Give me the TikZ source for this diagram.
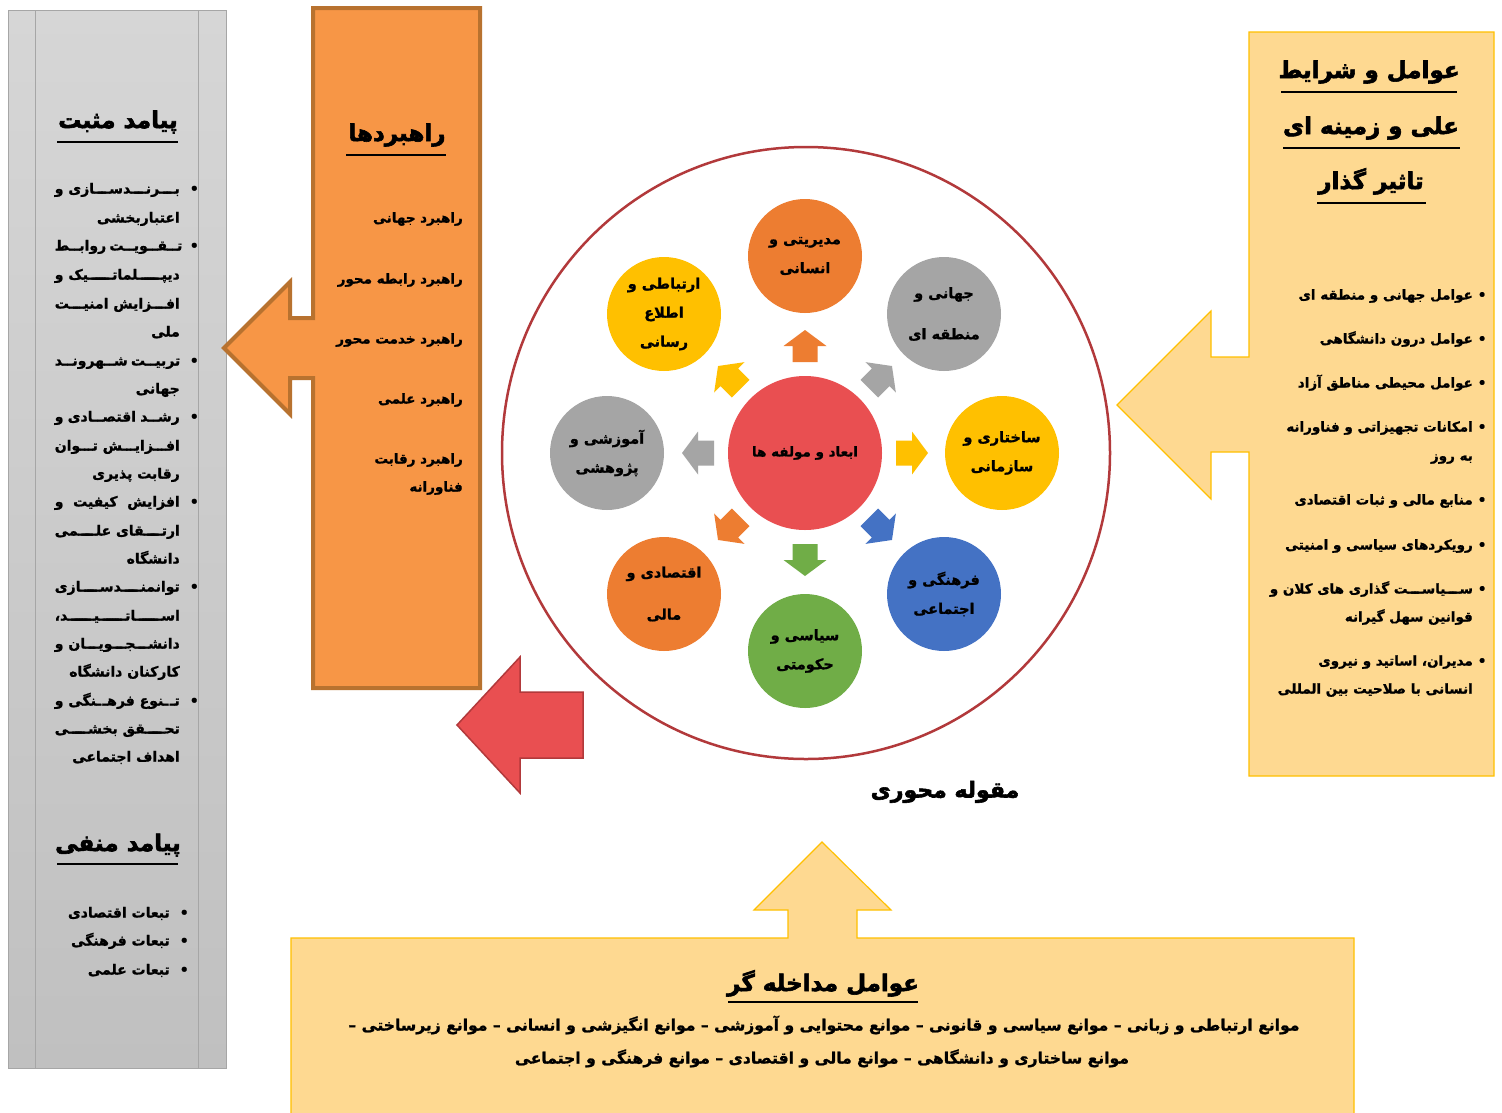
\documentclass[tikz,border=0pt]{standalone}
\usepackage{fontspec}
\newfontfamily\fa[Script=Arabic, BoldFeatures={FakeBold=1.2}]{DejaVu Sans}
\newfontfamily\faT[Script=Arabic, BoldFeatures={FakeBold=2.5}]{DejaVu Sans}
\TeXXeTstate=1
\newcommand{\R}[1]{\beginR#1\endR}
\newcommand{\JL}[2][125pt]{\hbox to #1{\beginR #2\endR}}
\newcommand{\K}{\xleaders\hbox to 1.5pt{\hss ـ\hss}\hfill}
\newcommand{\bul}[1][10pt]{\rlap{\hspace{#1}•}}
\newcommand{\fS}{\fa\bfseries\fontsize{14}{17}\selectfont}
\newcommand{\fR}{\fa\bfseries\fontsize{13.5}{17}\selectfont}
\newcommand{\fT}{\faT\bfseries\fontsize{23}{28}\selectfont}
\newcommand{\fC}{\fa\bfseries\fontsize{14.5}{29}\selectfont}
\definecolor{grayA}{HTML}{D6D6D6}
\definecolor{grayB}{HTML}{C0C0C0}
\definecolor{grayL}{HTML}{A6A6A6}
\definecolor{orF}{HTML}{F79646}
\definecolor{orD}{HTML}{B8722F}
\definecolor{peach}{HTML}{FED991}
\definecolor{gold}{HTML}{FFC000}
\definecolor{redF}{HTML}{E94F51}
\definecolor{redD}{HTML}{B2393B}
\definecolor{cOr}{HTML}{ED7D31}
\definecolor{cGr}{HTML}{A5A5A5}
\definecolor{cYe}{HTML}{FFC000}
\definecolor{cBl}{HTML}{4472C4}
\definecolor{cGn}{HTML}{70AD47}
\tikzset{
  sm/.style={font=\fS, inner sep=0pt, text height=10pt, text depth=3pt},
  lnE/.style={sm, anchor=east},
  lnR/.style={lnE, font=\fR},
  ttl/.style={font=\fT, inner sep=0pt, text height=18pt, text depth=6pt},
  uline/.style={line width=2pt, black},
  sat/.style={circle, minimum size=114pt, inner sep=0pt, align=center, font=\fC},
}
\begin{document}
\begin{tikzpicture}[x=1pt,y=-1pt]
\useasboundingbox (0,0) rectangle (1502,1112);
\fill[white] (0,0) rectangle (1502,1112);

% ---------- left gray panel ----------
\shade[top color=grayA, bottom color=grayB] (8,10) rectangle (226,1068);
\draw[grayL, line width=1pt] (8,10) rectangle (226,1068);
\draw[grayL, line width=0.8pt] (35,10) -- (35,1068);
\draw[grayL, line width=0.8pt] (198,10) -- (198,1068);

\node[ttl] (posT) at (118,122) {\R{پیامد مثبت}};
\draw[uline] (57,142) -- (178,142);

\node[lnE] (p1) at (180,190) {\JL{بـ\K ـرنـ\K ـدسـ\K ـازی و}\bul};
\node[lnE] (p2) at (180,219) {\R{اعتباربخشی}};
\node[lnE] (p3) at (180,247) {\JL{تـ\K ـقـ\K ـویـ\K ـت روابـ\K ـط}\bul};
\node[lnE] (p4) at (180,276) {\JL{دیپـ\K ـلماتـ\K ـیک و}};
\node[lnE] (p5) at (180,305) {\JL{افـ\K ـزایش امنیـ\K ـت}};
\node[lnE] (p6) at (180,333) {\R{ملی}};
\node[lnE] (p7) at (180,362) {\JL{تربیـ\K ـت شـ\K ـهرونـ\K ـد}\bul};
\node[lnE] (p8) at (180,390) {\R{جهانی}};
\node[lnE] (p9) at (180,418) {\JL{رشـ\K ـد اقتصـ\K ـادی و}\bul};
\node[lnE] (p10) at (180,447) {\JL{افـ\K ـزایـ\K ـش تـ\K ـوان}};
\node[lnE] (p11) at (180,475) {\R{رقابت پذیری}};
\node[lnE] (p12) at (180,503) {\JL{افزایش\hfill کیفیت\hfill و}\bul};
\node[lnE] (p13) at (180,532) {\JL{ارتـ\K ـقای علـ\K ـمی}};
\node[lnE] (p14) at (180,560) {\R{دانشگاه}};
\node[lnE] (p15) at (180,588) {\JL{توانمنـ\K ـدسـ\K ـازی}\bul};
\node[lnE] (p16) at (180,617) {\JL{اسـ\K ـاتـ\K ـیـ\K ـد،}};
\node[lnE] (p17) at (180,645) {\JL{دانشـ\K ـجـ\K ـویـ\K ـان و}};
\node[lnE] (p18) at (180,673) {\R{کارکنان دانشگاه}};
\node[lnE] (p19) at (180,702) {\JL{تـ\K ـنوع فرهـ\K ـنگی و}\bul};
\node[lnE] (p20) at (180,730) {\JL{تحـ\K ـقق بخشـ\K ـی}};
\node[lnE] (p21) at (180,758) {\R{اهداف اجتماعی}};

\node[ttl] (negT) at (118,845) {\R{پیامد منفی}};
\draw[uline] (57,864) -- (178,864);
\node[lnE] (n1) at (170,914) {\R{تبعات اقتصادی}\bul};
\node[lnE] (n2) at (170,942) {\R{تبعات فرهنگی}\bul};
\node[lnE] (n3) at (170,971) {\R{تبعات علمی}\bul};

% ---------- orange strategies panel ----------
\draw[orD, fill=orF, line width=4pt, line join=miter]
  (313,8) -- (480,8) -- (480,688) -- (313,688) -- (313,378) -- (290,378)
  -- (290,414) -- (224,348) -- (290,282) -- (290,318) -- (313,318) -- cycle;
\node[ttl] (strT) at (397,135) {\R{راهبردها}};
\draw[uline] (346,155) -- (446,155);
\node[lnR] (s1) at (463,219) {\R{راهبرد جهانی}};
\node[lnR] (s2) at (463,280) {\R{راهبرد رابطه محور}};
\node[lnR] (s3) at (463,340) {\R{راهبرد خدمت محور}};
\node[lnR] (s4) at (463,400) {\R{راهبرد علمی}};
\node[lnR] (s5) at (463,460) {\R{راهبرد رقابت}};
\node[lnR] (s6) at (463,488) {\R{فناورانه}};

% ---------- red arrow ----------
\draw[redD, fill=redF, line width=1.5pt, line join=miter]
  (583,692) -- (583,758) -- (520,758) -- (520,793) -- (457,725)
  -- (520,657) -- (520,692) -- cycle;

% ---------- central circle ----------
\draw[redD, line width=2.5pt] (806,453) ellipse [x radius=304, y radius=306];
\node[circle, fill=redF, minimum size=154pt, inner sep=0pt, font=\fa\bfseries\fontsize{13.5}{17}\selectfont] (core) at (805,453) {\R{ابعاد و مولفه ها}};

\node[sat, fill=cOr] (c1) at (805,256) {\R{مدیریتی و}\\\R{انسانی}};
\node[sat, fill=cGr, font=\fa\bfseries\fontsize{14.5}{41}\selectfont] (c2) at (944,314) {\R{جهانی و}\\\R{منطقه ای}};
\node[sat, fill=cYe] (c3) at (1002,453) {\R{ساختاری و}\\\R{سازمانی}};
\node[sat, fill=cBl] (c4) at (944,594) {\R{فرهنگی و}\\\R{اجتماعی}};
\node[sat, fill=cGn] (c5) at (805,651) {\R{سیاسی و}\\\R{حکومتی}};
\node[sat, fill=cOr, font=\fa\bfseries\fontsize{14.5}{42}\selectfont] (c6) at (664,594) {\R{اقتصادی و}\\\R{مالی}};
\node[sat, fill=cGr] (c7) at (607,453) {\R{آموزشی و}\\\R{پژوهشی}};
\node[sat, fill=cYe] (c8) at (664,314) {\R{ارتباطی و}\\\R{اطلاع}\\\R{رسانی}};

\foreach \r/\c in {0/cYe,45/cGr,90/cOr,135/cYe,180/cGr,225/cOr,270/cGn,315/cBl}{
  \begin{scope}[shift={(805,453)},rotate=\r]
    \fill[\c] (91,-12.5) -- (107,-12.5) -- (107,-21.5) -- (123,0)
      -- (107,21.5) -- (107,12.5) -- (91,12.5) -- cycle;
  \end{scope}
}

\node[font=\faT\bfseries\fontsize{22}{26}\selectfont, inner sep=0pt, text height=17pt, text depth=6pt] (axis) at (945,792) {\R{مقوله محوری}};

% ---------- right panel ----------
\draw[gold, fill=peach, line width=1.2pt, line join=miter]
  (1249,32) -- (1494,32) -- (1494,776) -- (1249,776) -- (1249,452) -- (1211,452)
  -- (1211,499) -- (1117,405) -- (1211,311) -- (1211,357) -- (1249,357) -- cycle;
\node[ttl] (rT1) at (1369,72) {\R{عوامل و شرایط}};
\node[ttl] (rT2) at (1371,128) {\R{علی و زمینه ای}};
\node[ttl] (rT3) at (1371,183) {\R{تاثیر گذار}};
\draw[uline] (1281,92) -- (1457,92);
\draw[uline] (1283,148) -- (1460,148);
\draw[uline] (1317,203) -- (1426,203);

\node[lnR] (r1) at (1473,296) {\R{عوامل جهانی و منطقه ای}\bul[5pt]};
\node[lnR] (r2) at (1473,340) {\R{عوامل درون دانشگاهی}\bul[5pt]};
\node[lnR] (r3) at (1473,384) {\R{عوامل محیطی مناطق آزاد}\bul[5pt]};
\node[lnR] (r4) at (1473,428) {\R{امکانات تجهیزاتی و فناورانه}\bul[5pt]};
\node[lnR] (r5) at (1473,457) {\R{به روز}};
\node[lnR] (r6) at (1473,501) {\R{منابع مالی و ثبات اقتصادی}\bul[5pt]};
\node[lnR] (r7) at (1473,546) {\R{رویکردهای سیاسی و امنیتی}\bul[5pt]};
\node[lnR] (r8) at (1473,590) {\JL[203pt]{سـ\K ـیاسـ\K ـت گذاری های کلان و}\bul[5pt]};
\node[lnR] (r9) at (1473,618) {\R{قوانین سهل گیرانه}};
\node[lnR] (r10) at (1473,662) {\R{مدیران، اساتید و نیروی}\bul[5pt]};
\node[lnR] (r11) at (1473,690) {\R{انسانی با صلاحیت بین المللی}};

% ---------- bottom panel ----------
\draw[gold, fill=peach, line width=1.2pt, line join=miter]
  (291,1116) -- (291,938) -- (788,938) -- (788,910) -- (754,910) -- (822,842)
  -- (891,910) -- (857,910) -- (857,938) -- (1354,938) -- (1354,1116);
\node[ttl] (bT) at (823,985) {\R{عوامل مداخله گر}};
\draw[uline] (728,1002) -- (918,1002);
\node[sm, font=\fa\bfseries\fontsize{15.6}{20}\selectfont, text height=11pt, text depth=4pt] (b1) at (824,1027)
  {\R{موانع ارتباطی و زبانی –  موانع سیاسی و قانونی – موانع محتوایی و آموزشی –  موانع انگیزشی و انسانی – موانع زیرساختی –}};
\node[sm, font=\fa\bfseries\fontsize{15.6}{20}\selectfont, text height=11pt, text depth=4pt] (b2) at (822,1060)
  {\R{موانع ساختاری و دانشگاهی –  موانع مالی و اقتصادی –  موانع فرهنگی و اجتماعی}};
\end{tikzpicture}
\end{document}
